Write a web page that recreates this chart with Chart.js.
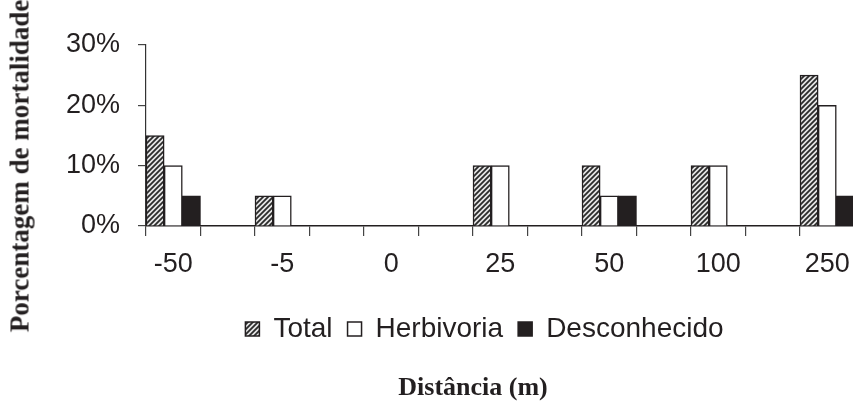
<!DOCTYPE html>
<html>
<head>
<meta charset="utf-8">
<script src="https://cdn.jsdelivr.net/npm/chart.js@4.4.1/dist/chart.umd.min.js"></script>
<style>
  html, body { margin: 0; padding: 0; background: #fff; overflow: hidden; width: 853px; height: 417px; }
  #wrap { position: relative; width: 853px; height: 417px; overflow: hidden; }
  canvas { position: absolute; left: 0; top: 0; }
  .ytitle { position: absolute; left: 20px; top: 166px; transform: translate(-50%, -50%) rotate(-90deg);
    font: bold 27px "Liberation Serif", "Times New Roman", serif; color: #231f20; white-space: nowrap; line-height: 27px; }
  .xtitle { position: absolute; left: 473px; top: 387px; transform: translate(-50%, -50%);
    font: bold 26px "Liberation Serif", "Times New Roman", serif; color: #231f20; white-space: nowrap; line-height: 26px; }
</style>
</head>
<body>
<div id="wrap">
  <canvas id="c" width="920" height="417"></canvas>
  <div class="ytitle">Porcentagem de mortalidade</div>
  <div class="xtitle">Distância (m)</div>
</div>
<script>
const categories = ['-50', '-5', '0', '25', '50', '100', '250'];
const total = [15, 5, 0, 10, 10, 10, 25];
const herbivoria = [10, 5, 0, 10, 5, 10, 20];
const desconhecido = [5, 0, 0, 0, 5, 0, 5];
const yTicks = [0, 10, 20, 30];
const seriesNames = ['Total', 'Herbivoria', 'Desconhecido'];

// each category occupies the left half of a slot; the right half is empty
function spread(arr) { const out = []; arr.forEach(v => { out.push(v); out.push(null); }); return out; }
const labels = [];
categories.forEach(c => { labels.push(c); labels.push(''); });

function hatch() {
  const s = 5;
  const p = document.createElement('canvas');
  p.width = s; p.height = s;
  const g = p.getContext('2d');
  g.fillStyle = '#e6e6e6';
  g.fillRect(0, 0, s, s);
  g.strokeStyle = '#2a2a2a';
  g.lineWidth = 1.8;
  g.beginPath();
  g.moveTo(0, s); g.lineTo(s, 0);
  g.moveTo(-1, 1); g.lineTo(1, -1);
  g.moveTo(s - 1, s + 1); g.lineTo(s + 1, s - 1);
  g.stroke();
  return g.createPattern(p, 'repeat');
}

const ink = '#231f20';
const ctx = document.getElementById('c').getContext('2d');
new Chart(ctx, {
  type: 'bar',
  data: {
    labels: labels,
    datasets: [
      { label: seriesNames[0], data: spread(total), backgroundColor: hatch(), borderColor: ink, borderWidth: 1.5 },
      { label: seriesNames[1], data: spread(herbivoria), backgroundColor: '#ffffff', borderColor: ink, borderWidth: 1.5 },
      { label: seriesNames[2], data: spread(desconhecido), backgroundColor: ink, borderColor: ink, borderWidth: 1.5 }
    ]
  },
  options: {
    responsive: false,
    animation: false,
    layout: { padding: { left: 60, right: 11, top: 45, bottom: 64 } },
    datasets: { bar: { categoryPercentage: 1.0, barPercentage: 1.0 } },
    plugins: {
      tooltip: { enabled: false },
      title: { display: false },
      legend: {
        position: 'bottom',
        labels: {
          boxWidth: 14, boxHeight: 14, padding: 15,
          color: ink,
          font: { family: '"Liberation Sans", Arial, sans-serif', size: 28 }
        }
      }
    },
    scales: {
      x: {
        offset: true,
        grid: { offset: true, drawOnChartArea: false, drawTicks: true, tickLength: 10, color: '#444', lineWidth: 1.2 },
        border: { display: true, color: ink, width: 1.5 },
        ticks: {
          autoSkip: false, maxRotation: 0, minRotation: 0, padding: 12, color: ink,
          font: { family: '"Liberation Sans", Arial, sans-serif', size: 27 }
        },
        afterFit: s => { s.height = 74; }
      },
      y: {
        min: 0, max: 30,
        afterBuildTicks: s => { s.ticks = yTicks.map(v => ({ value: v })); },
        grid: { drawOnChartArea: false, drawTicks: true, tickLength: 8, color: '#444', lineWidth: 1.2 },
        border: { display: true, color: '#333', width: 1.2 },
        ticks: {
          padding: 18, color: ink,
          font: { family: '"Liberation Sans", Arial, sans-serif', size: 27 },
          callback: v => v + '%'
        },
        afterFit: s => { s.width = 86; }
      }
    }
  }
});
</script>
</body>
</html>
